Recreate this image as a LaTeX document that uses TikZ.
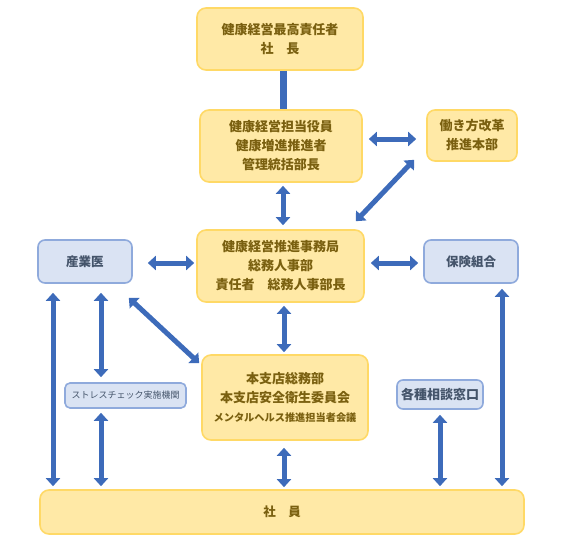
\documentclass[tikz,border=0pt]{standalone}
\usepackage{fontspec}
\newfontfamily\jp{Noto Sans CJK JP}
\usetikzlibrary{arrows.meta,calc}
\definecolor{yfill}{HTML}{FFE9A6}
\definecolor{ydraw}{HTML}{FFD966}
\definecolor{ytext}{HTML}{7A6010}
\definecolor{bfill}{HTML}{DAE3F3}
\definecolor{bdraw}{HTML}{8FAADC}
\definecolor{btext}{HTML}{44546A}
\definecolor{arrcol}{HTML}{3D6BBA}
\tikzset{
  ybox/.style={draw=ydraw, fill=yfill, line width=1.6pt, rounded corners=9pt,
    align=center, text=ytext, font=\jp\bfseries\fontsize{13}{19}\selectfont, inner sep=0pt},
  bbox/.style={draw=bdraw, fill=bfill, line width=1.6pt, rounded corners=7pt,
    align=center, text=btext, font=\jp\bfseries\fontsize{12.5}{16}\selectfont, inner sep=0pt},
  arr/.style={draw=arrcol, line width=5pt,
    {Triangle[width=14pt,length=8pt]}-{Triangle[width=14pt,length=8pt]}},
  plainline/.style={draw=arrcol, line width=7pt}
}
\begin{document}
\begin{tikzpicture}[x=1pt,y=-1pt]
\useasboundingbox (0,0) rectangle (574,544);
% nodes
\node[ybox, minimum width=166pt, minimum height=62pt] (top) at (280,39)
  {健康経営最高責任者\\社　長};
\node[ybox, minimum width=162pt, minimum height=72pt] (tanto) at (281,146)
  {健康経営担当役員\\健康増進推進者\\管理統括部長};
\node[ybox, minimum width=90pt, minimum height=51pt, rounded corners=8pt] (hataraki) at (472,135.5)
  {働き方改革\\推進本部};
\node[ybox, minimum width=167pt, minimum height=72pt] (jimu) at (280.5,266)
  {健康経営推進事務局\\総務人事部\\責任者　総務人事部長};
\node[bbox, minimum width=94pt, minimum height=43pt] (sangyo) at (85,261.5) {産業医};
\node[bbox, minimum width=94pt, minimum height=43pt] (hoken) at (471,261.5) {保険組合};
\node[ybox, minimum width=166pt, minimum height=85pt] (honshi) at (285,397.5)
  {本支店総務部\\本支店安全衛生委員会\\{\fontsize{10.2}{14}\selectfont メンタルヘルス推進担当者会議}};
\node[bbox, minimum width=121pt, minimum height=25pt, rounded corners=5pt,
  font=\jp\fontsize{9}{10}\selectfont] (stress) at (125.5,395.5) {ストレスチェック実施機関};
\node[bbox, minimum width=86pt, minimum height=29pt, rounded corners=6pt,
  font=\jp\bfseries\fontsize{13}{15}\selectfont] (soudan) at (440,394.5) {各種相談窓口};
\node[ybox, minimum width=484pt, minimum height=44pt, font=\jp\bfseries\fontsize{12.5}{14}\selectfont] (shain) at (282,512) {社　員};
% x-positions of vertical connectors
\coordinate (xa) at (53,0);
\coordinate (xb) at (101,0);
\coordinate (xc) at (284,0);
\coordinate (xd) at (440,0);
\coordinate (xe) at (502,0);
\coordinate (xt) at (283,0);
\coordinate (ya) at (0,263);
\coordinate (yb) at (0,139);
% connectors
\draw[plainline] (top.south -| xt) -- (tanto.north -| xt);
\draw[arr, shorten <=3pt, shorten >=4pt] (tanto.south -| xt) -- (jimu.north -| xt);
\draw[arr, shorten <=6pt, shorten >=10pt] (tanto.east |- yb) -- (hataraki.west |- yb);
\draw[arr] ($(jimu.north east)+(-9,-8)$) -- ($(hataraki.south west)+(-12,-2)$);
\draw[arr, shorten <=15pt, shorten >=2pt] (sangyo.east |- ya) -- (jimu.west |- ya);
\draw[arr, shorten <=6pt, shorten >=5pt] (jimu.east |- ya) -- (hoken.west |- ya);
\draw[arr, shorten <=3pt, shorten >=2pt] (jimu.south -| xc) -- (honshi.north -| xc);
\draw[arr] ($(sangyo.south east)+(-4,14)$) -- ($(honshi.north west)+(-2,9)$);
\draw[arr, shorten <=9pt, shorten >=3pt] (sangyo.south -| xa) -- (shain.north -| xa);
\draw[arr, shorten <=9pt, shorten >=5pt] (sangyo.south -| xb) -- (stress.north -| xb);
\draw[arr, shorten <=4pt, shorten >=3pt] (stress.south -| xb) -- (shain.north -| xb);
\draw[arr, shorten <=7pt, shorten >=2pt] (honshi.south -| xc) -- (shain.north -| xc);
\draw[arr, shorten <=5pt, shorten >=3pt] (soudan.south -| xd) -- (shain.north -| xd);
\draw[arr, shorten <=5pt, shorten >=3pt] (hoken.south -| xe) -- (shain.north -| xe);
\end{tikzpicture}
\end{document}
